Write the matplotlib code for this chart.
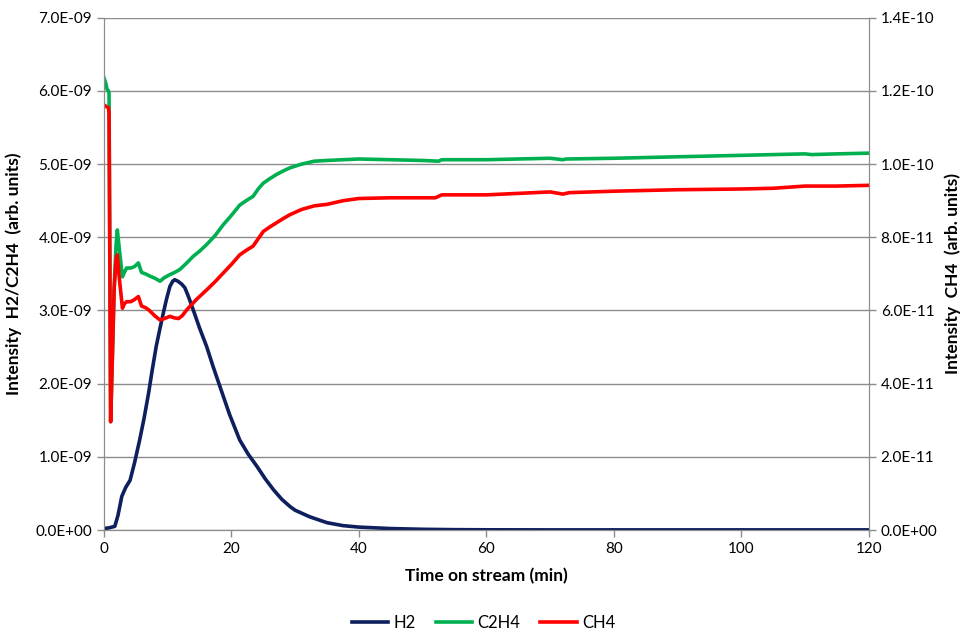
import matplotlib.pyplot as plt
from matplotlib.ticker import FuncFormatter, MultipleLocator

# time on stream (min)
t_h2 = [0.0, 0.8, 1.7, 2.2, 2.8, 3.4, 4.1, 4.8, 5.6, 6.3, 7.0, 7.6, 8.2, 8.8, 9.3,
        9.8, 10.35, 10.8, 11.1, 11.6, 12.2, 12.7, 13.3, 14.0, 15.0, 16.1, 17.1, 18.2,
        19.7, 21.3, 22.6, 24.0, 25.3, 26.6, 27.9, 29.2, 30.0, 32.3, 35.0, 37.5, 40.0,
        45.0, 50.0, 55.0, 60.0, 70.0, 80.0, 90.0, 100.0, 110.0, 120.0]
h2 = [0.02, 0.03, 0.05, 0.2, 0.46, 0.58, 0.68, 0.92, 1.23, 1.53, 1.87, 2.2, 2.51, 2.76,
      2.96, 3.15, 3.33, 3.40, 3.42, 3.40, 3.36, 3.31, 3.18, 3.01, 2.76, 2.51, 2.24, 1.96,
      1.58, 1.23, 1.04, 0.87, 0.70, 0.55, 0.42, 0.32, 0.27, 0.18, 0.10, 0.06, 0.04,
      0.02, 0.01, 0.005, 0.003, 0.002, 0.002, 0.002, 0.002, 0.002, 0.002]

t_c2h4 = [0.0, 0.3, 0.5, 0.7, 0.8, 1.05, 1.3, 1.6, 1.9, 2.1, 2.4, 2.9, 3.2, 3.55, 4.2,
          4.8, 5.4, 5.9, 6.5, 7.2, 8.0, 8.8, 9.5, 10.35, 11.1, 11.9, 13.0, 14.0, 15.0,
          16.1, 17.4, 18.7, 20.0, 21.3, 22.3, 23.4, 24.2, 25.0, 26.0, 27.1, 28.2, 29.2,
          31.0, 33.0, 35.0, 40.0, 45.0, 50.0, 52.5, 53.0, 60.0, 65.0, 70.0, 72.0, 72.5,
          80.0, 90.0, 100.0, 105.0, 110.0, 111.0, 115.0, 120.0]
c2h4 = [6.18, 6.10, 6.02, 6.00, 5.97, 1.48, 2.3, 3.3, 3.9, 4.10, 3.85, 3.46, 3.52, 3.58,
        3.58, 3.60, 3.65, 3.52, 3.50, 3.47, 3.44, 3.40, 3.45, 3.49, 3.52, 3.56, 3.65,
        3.74, 3.81, 3.90, 4.02, 4.17, 4.30, 4.44, 4.50, 4.56, 4.66, 4.74, 4.80, 4.86,
        4.91, 4.95, 5.00, 5.04, 5.05, 5.07, 5.06, 5.05, 5.04, 5.06, 5.06, 5.07, 5.08,
        5.06, 5.07, 5.08, 5.10, 5.12, 5.13, 5.14, 5.13, 5.14, 5.15]

# CH4 on the secondary axis (x 1e-11)
t_ch4 = [0.0, 0.3, 0.7, 0.8, 1.05, 1.3, 1.6, 1.9, 2.1, 2.4, 2.9, 3.2, 3.55, 4.2, 4.8,
         5.4, 5.9, 6.5, 7.0, 8.0, 8.8, 9.5, 10.35, 11.0, 11.7, 12.3, 13.0, 14.5, 16.1,
         17.4, 18.7, 20.0, 21.3, 22.3, 23.4, 24.2, 25.0, 26.0, 27.1, 28.2, 29.2, 31.0,
         33.0, 35.0, 37.5, 40.0, 45.0, 52.0, 53.0, 60.0, 65.0, 70.0, 72.0, 73.0, 80.0,
         90.0, 100.0, 105.0, 110.0, 115.0, 120.0]
ch4 = [11.62, 11.58, 11.54, 11.40, 2.96, 4.6, 6.6, 7.4, 7.52, 6.9, 6.06, 6.18, 6.24,
       6.24, 6.30, 6.38, 6.12, 6.08, 6.02, 5.85, 5.74, 5.78, 5.84, 5.80, 5.78, 5.86,
       6.02, 6.30, 6.56, 6.78, 7.02, 7.26, 7.52, 7.64, 7.76, 7.96, 8.16, 8.28, 8.40,
       8.52, 8.62, 8.76, 8.86, 8.90, 9.00, 9.06, 9.08, 9.08, 9.16, 9.16, 9.20, 9.24,
       9.18, 9.22, 9.26, 9.30, 9.32, 9.34, 9.40, 9.40, 9.42]

NAVY = '#0D1F5C'
GREEN = '#00B050'
RED = '#FF0000'
GRID = '#8C8C8C'

plt.rcParams['font.family'] = ['Lato', 'DejaVu Sans']

fig = plt.figure(figsize=(9.67, 6.34), dpi=100)
ax = fig.add_axes([0.1075, 0.164, 0.791, 0.808])
ax2 = ax.twinx()

l1, = ax.plot(t_h2, [v * 1e-9 for v in h2], color=NAVY, lw=2.6, label='H2')
l2, = ax.plot(t_c2h4, [v * 1e-9 for v in c2h4], color=GREEN, lw=2.6, label='C2H4')
l3, = ax2.plot(t_ch4, [v * 1e-11 for v in ch4], color=RED, lw=2.6, label='CH4')

sci = FuncFormatter(lambda v, p: f'{v:.1E}')

ax.set_xlim(0, 120)
ax.set_ylim(0, 7e-9)
ax.yaxis.set_major_locator(MultipleLocator(1e-9))
ax.yaxis.set_major_formatter(sci)
ax.xaxis.set_major_locator(MultipleLocator(20))
ax2.set_ylim(0, 1.4e-10)
ax2.yaxis.set_major_locator(MultipleLocator(2e-11))
ax2.yaxis.set_major_formatter(sci)
ax2.yaxis.get_offset_text().set_visible(False)
ax.yaxis.get_offset_text().set_visible(False)

ax.grid(axis='y', color=GRID, lw=1.0)
ax.set_axisbelow(True)

for a in (ax, ax2):
    for s in a.spines.values():
        s.set_color(GRID)
    a.spines['top'].set_visible(False)
    a.tick_params(colors=GRID, labelcolor='black', labelsize=11, length=5, width=1)

ax.set_xlabel('Time on stream (min)', fontsize=12.5, fontweight='bold', labelpad=9)
ax.set_ylabel('Intensity  H2/C2H4  (arb. units)', fontsize=12.5, fontweight='bold', labelpad=10)
ax2.set_ylabel('Intensity  CH4  (arb. units)', fontsize=12.5, fontweight='bold',
               rotation=90, labelpad=5)

fig.legend(handles=[l1, l2, l3], loc='center', bbox_to_anchor=(0.5, 0.018),
           ncol=3, frameon=False, fontsize=12, handlelength=2.2, columnspacing=1.2,
           handletextpad=0.3)

fig.savefig('out.png', dpi=100)
